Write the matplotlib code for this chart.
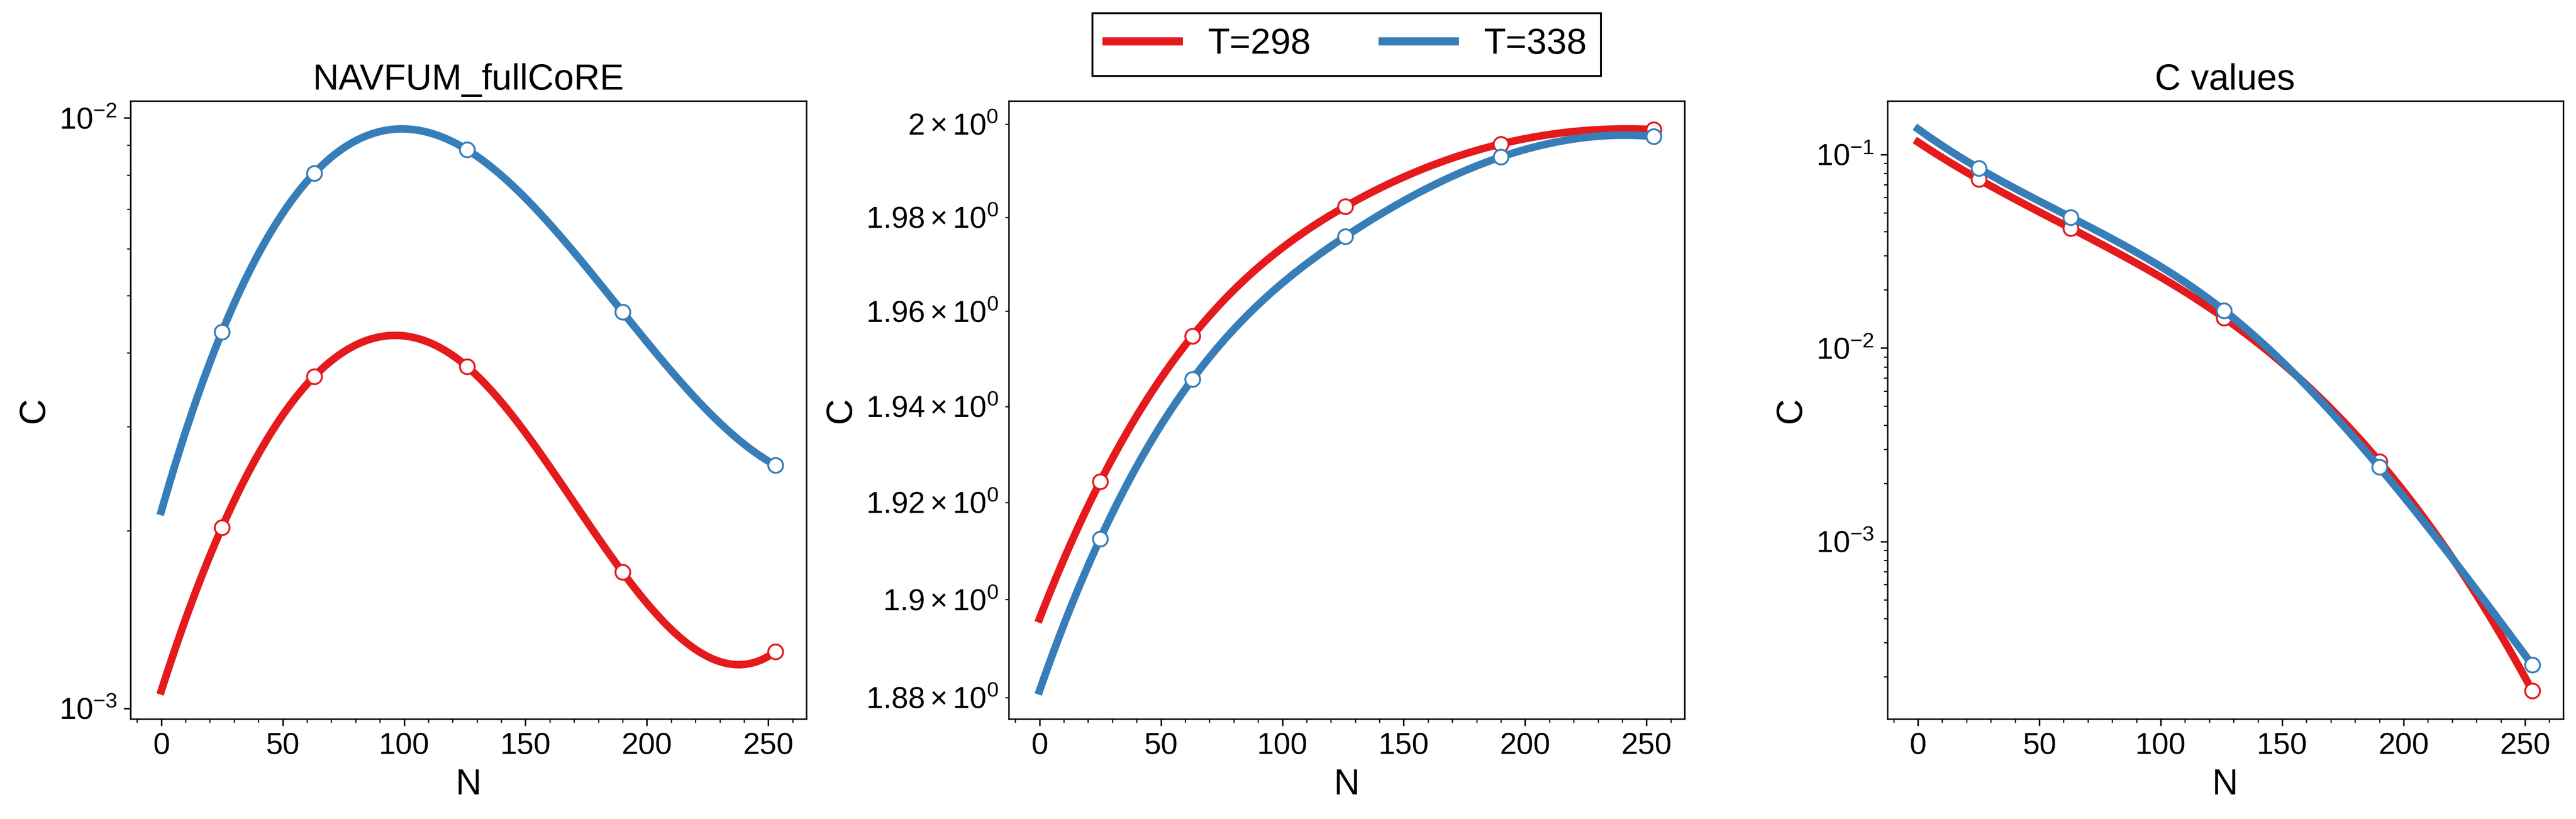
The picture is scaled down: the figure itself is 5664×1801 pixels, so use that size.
import numpy as np
import matplotlib
matplotlib.use("Agg")
import matplotlib.pyplot as plt
from matplotlib.ticker import AutoMinorLocator

plt.rcParams['font.family'] = ['Liberation Sans', 'DejaVu Sans']
plt.rcParams['mathtext.fontset'] = 'custom'
plt.rcParams['mathtext.rm'] = 'Liberation Sans'
plt.rcParams['mathtext.it'] = 'Liberation Sans:italic'
plt.rcParams['mathtext.bf'] = 'Liberation Sans:bold'

# ---- data ----
N = [25, 63, 126, 190, 253]
temps = ["T=298", "T=338"]
colors = ["#e41a1c", "#377eb8"]

titles = ["NAVFUM_fullCoRE", "", "C values"]

c1_298 = [2.025e-3, 3.65e-3, 3.79e-3, 1.70e-3, 1.248e-3]
c1_338 = [4.34e-3, 8.06e-3, 8.83e-3, 4.69e-3, 2.58e-3]

c2_298 = [1.9243, 1.9548, 1.9823, 1.9957, 1.9988]
c2_338 = [1.9125, 1.9457, 1.9759, 1.9929, 1.9973]

c3_298 = [0.0746, 0.04157, 0.01434, 2.593e-3, 1.689e-4]
c3_338 = [0.08503, 0.04739, 0.01565, 2.42e-3, 2.30e-4]

panels = [(c1_298, c1_338), (c2_298, c2_338), (c3_298, c3_338)]


def cubic_spline_notaknot(x, y, xe):
    """Cubic interpolating spline (not-a-knot) through 5 points, evaluated at xe."""
    s = 100.0
    x = np.asarray(x, float) / s
    xe = np.asarray(xe, float) / s
    y = np.asarray(y, float)
    A = np.zeros((8, 8))
    b = np.zeros(8)
    r = 0
    for i in range(3):
        A[r, 0:4] = [1, x[i], x[i] ** 2, x[i] ** 3]
        b[r] = y[i]
        r += 1
    for i in range(2, 5):
        A[r, 4:8] = [1, x[i], x[i] ** 2, x[i] ** 3]
        b[r] = y[i]
        r += 1
    k = x[2]
    A[r, 0:4] = [0, 1, 2 * k, 3 * k * k]
    A[r, 4:8] = [0, -1, -2 * k, -3 * k * k]
    r += 1
    A[r, 0:4] = [0, 0, 2, 6 * k]
    A[r, 4:8] = [0, 0, -2, -6 * k]
    c = np.linalg.solve(A, b)
    return np.where(xe <= k,
                    c[0] + c[1] * xe + c[2] * xe ** 2 + c[3] * xe ** 3,
                    c[4] + c[5] * xe + c[6] * xe ** 2 + c[7] * xe ** 3)


# ---- figure ----
W, H = 5664, 1801
fig = plt.figure(figsize=(W / 300, H / 300), dpi=300)
lefts = [287, 2218, 4149.5]
aw = 1486
ab = H - 1581
ah = 1359.3

xs = np.linspace(0, max(N), 600)
legend_handles = []
for i, (left, series) in enumerate(zip(lefts, panels)):
    ax = fig.add_axes([left / W, ab / H, aw / W, ah / H])
    ax.set_yscale('log')
    for j, (vals, col, lab) in enumerate(zip(series, colors, temps)):
        fit = 10 ** cubic_spline_notaknot(N, np.log10(vals), xs)
        ln, = ax.plot(xs, fit, color=col, lw=4, label=lab, zorder=2 + j)
        ax.plot(N, vals, 'o', mfc='white', mec=col, ms=7.8, mew=1.0, zorder=2.5 + j)
        if i == 0:
            legend_handles.append(ln)
    ax.xaxis.set_minor_locator(AutoMinorLocator())
    ax.set_xlabel('N', fontsize=19)
    ax.set_ylabel('C', fontsize=19)
    ax.tick_params(axis='both', which='both', labelsize=16)
    if titles[i]:
        ax.set_title(titles[i], fontsize=19)

leg = fig.legend(legend_handles, temps, loc='upper center',
                 bbox_to_anchor=((lefts[1] + aw / 2) / W, 1 - 28.7 / H),
                 ncol=2, fontsize=19, fancybox=False, edgecolor='black',
                 framealpha=1, borderaxespad=0)
leg.get_frame().set_linewidth(1.0)
for l in leg.get_lines():
    l.set_linewidth(4.3)

fig.savefig('out.png', dpi=300)
